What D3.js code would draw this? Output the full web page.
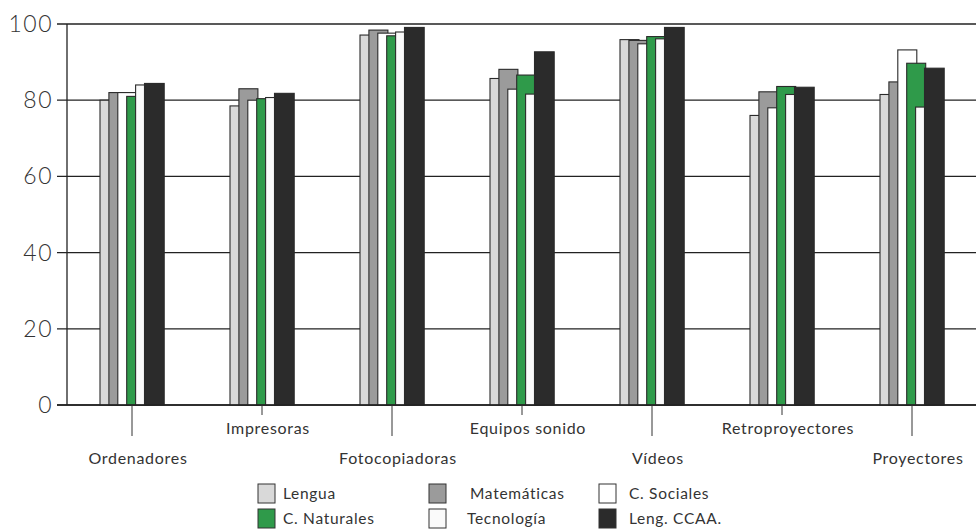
<!DOCTYPE html>
<html><head><meta charset="utf-8">
<script src="https://cdn.jsdelivr.net/npm/d3@7"></script>
<style>
html,body{margin:0;padding:0;background:#fff;}
svg{display:block;font-family:Lato,"Open Sans",sans-serif;}
</style></head>
<body><svg id="c" width="976" height="529"></svg>
<script>
const categories = ["Ordenadores","Impresoras","Fotocopiadoras","Equipos sonido","Vídeos","Retroproyectores","Proyectores"];
const seriesNames = ["Lengua","Matemáticas","C. Sociales","C. Naturales","Tecnología","Leng. CCAA."];
const lengua      = [80, 78.5, 97.1, 85.7, 95.9, 76, 81.5];
const matematicas = [82, 83, 98.4, 88.1, 95.7, 82.2, 84.8];
const cSociales   = [82, 80, 97.6, 82.9, 94.8, 78, 93.2];
const cNaturales  = [81, 80.4, 96.9, 86.6, 96.7, 83.6, 89.7];
const tecnologia  = [84, 80.7, 97.9, 81.6, 96.1, 81.5, 78.2];
const lengCCAA    = [84.4, 81.8, 99.1, 92.7, 99.1, 83.4, 88.4];
const yTicks = [0,20,40,60,80,100];
const colors = ["#d9d9d9","#9b9b9b","#ffffff","#2f9a4a","#fafafa","#2b2b2b"];

const values = [lengua, matematicas, cSociales, cNaturales, tecnologia, lengCCAA];
const svg = d3.select("#c");
const x = d3.scaleBand().domain(categories).range([67, 977]).padding(0);
const y = d3.scaleLinear().domain([0,100]).range([405, 24]);
const off = d3.scaleLinear().domain([0,5]).range([-32, 12.5]);
const barW = [19, 19, 19, 19, 19, 19.7];

// gridlines
svg.append("g").selectAll("line").data(yTicks).join("line")
  .attr("x1", 57).attr("x2", 976)
  .attr("y1", d=>y(d)).attr("y2", d=>y(d))
  .attr("stroke", "#222").attr("stroke-width", 1.3);
// left axis line
svg.append("line").attr("x1",67).attr("x2",67).attr("y1",y(100)).attr("y2",y(0))
  .attr("stroke","#222").attr("stroke-width",1.3);
// y labels
svg.append("g").selectAll("text").data(yTicks).join("text")
  .attr("x", 53).attr("y", d=>y(d)+8)
  .attr("text-anchor","end").attr("font-size",23).attr("font-weight",300)
  .attr("letter-spacing",1.5).attr("fill","#333")
  .text(d=>d);

// bars
const bars = svg.append("g");
values.forEach((vals, si) => {
  bars.append("g").selectAll("rect").data(vals).join("rect")
    .attr("x", (d,i)=> x(categories[i]) + x.bandwidth()/2 + off(si))
    .attr("y", d=>y(d))
    .attr("width", barW[si])
    .attr("height", d=>y(0)-y(d))
    .attr("fill", colors[si])
    .attr("stroke", "#2a2a2a").attr("stroke-width", 1.1);
});
// baseline redraw
svg.append("line").attr("x1",57).attr("x2",976).attr("y1",y(0)).attr("y2",y(0))
  .attr("stroke","#222").attr("stroke-width",1.3);

// category ticks & labels
const cg = svg.append("g");
categories.forEach((c,i)=>{
  const cx = x(c) + x.bandwidth()/2;
  const low = i%2===0;
  cg.append("line").attr("x1",cx).attr("x2",cx).attr("y1",y(0)).attr("y2", low?436:415)
    .attr("stroke","#333").attr("stroke-width",1);
  cg.append("text").attr("x",cx + 6).attr("y", low?464:434)
    .attr("text-anchor","middle").attr("font-size",16).attr("letter-spacing",0.7)
    .attr("fill","#333").text(c);
});

// legend
const legPos = [[258,484],[429,484],[599,484],[258,509],[429,509],[599,509]];
const legText = [283,470,629,283,467,629];
const lg = svg.append("g");
seriesNames.forEach((n,i)=>{
  lg.append("rect").attr("x",legPos[i][0]).attr("y",legPos[i][1]).attr("width",17).attr("height",19)
    .attr("fill",colors[i]).attr("stroke","#333").attr("stroke-width",1);
  lg.append("text").attr("x",legText[i]).attr("y",legPos[i][1]+14.5)
    .attr("font-size",15.5).attr("letter-spacing",0.7).attr("fill","#333").text(n);
});
</script></body></html>
